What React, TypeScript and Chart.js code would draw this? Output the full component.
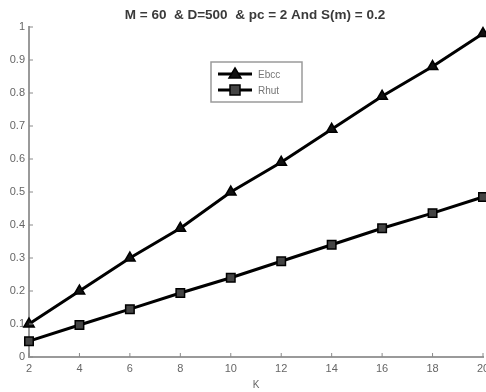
import React, { useEffect, useRef } from "react";
import { Chart, registerables } from "chart.js";

Chart.register(...registerables);

const titleText = "M = 60  & D=500  & pc = 2 And S(m) = 0.2";
const xLabel = "K";
const kValues = [2, 4, 6, 8, 10, 12, 14, 16, 18, 20];
const ebccValues = [0.1, 0.2, 0.3, 0.39, 0.5, 0.59, 0.69, 0.79, 0.88, 0.98];
const rhutValues = [0.048, 0.097, 0.145, 0.194, 0.24, 0.29, 0.34, 0.39, 0.436, 0.485];
const seriesNames = ["Ebcc", "Rhut"];

const titlePlugin = {
  id: "titlePlugin",
  afterDraw(chart: any) {
    const { ctx } = chart;
    ctx.save();
    ctx.fillStyle = "#3a3a3a";
    ctx.font = "bold 13.5px 'Liberation Sans', Arial, sans-serif";
    ctx.textAlign = "center";
    ctx.textBaseline = "middle";
    ctx.fillText(titleText, 255, 15);
    ctx.restore();
  },
};

const innerTicks = {
  id: "innerTicks",
  afterDatasetsDraw(chart: any) {
    const { ctx, chartArea, scales } = chart;
    ctx.save();
    ctx.strokeStyle = "#8a8a8a";
    ctx.lineWidth = 1;
    scales.x.ticks.forEach((t: any) => {
      const x = scales.x.getPixelForValue(t.value);
      ctx.beginPath();
      ctx.moveTo(x, chartArea.bottom);
      ctx.lineTo(x, chartArea.bottom - 4);
      ctx.stroke();
    });
    scales.y.ticks.forEach((t: any) => {
      const y = scales.y.getPixelForValue(t.value);
      ctx.beginPath();
      ctx.moveTo(chartArea.left, y);
      ctx.lineTo(chartArea.left + 4, y);
      ctx.stroke();
    });
    ctx.restore();
  },
};

const customLegend = {
  id: "customLegend",
  afterDraw(chart: any) {
    const { ctx } = chart;
    const x0 = 211, y0 = 62, w = 91, h = 40;
    ctx.save();
    ctx.fillStyle = "#fff";
    ctx.fillRect(x0, y0, w, h);
    ctx.strokeStyle = "#9a9a9a";
    ctx.lineWidth = 1.5;
    ctx.strokeRect(x0, y0, w, h);
    chart.data.datasets.forEach((ds: any, i: number) => {
      const cy = y0 + 12 + i * 16;
      ctx.strokeStyle = "#000";
      ctx.lineWidth = 3;
      ctx.beginPath();
      ctx.moveTo(x0 + 7, cy);
      ctx.lineTo(x0 + 41, cy);
      ctx.stroke();
      const cx = x0 + 24;
      ctx.fillStyle = ds.pointBackgroundColor;
      ctx.strokeStyle = "#000";
      ctx.lineWidth = 1.5;
      ctx.beginPath();
      if (ds.pointStyle === "triangle") {
        ctx.moveTo(cx, cy - 6);
        ctx.lineTo(cx + 6, cy + 4);
        ctx.lineTo(cx - 6, cy + 4);
        ctx.closePath();
      } else {
        ctx.rect(cx - 5, cy - 5, 10, 10);
      }
      ctx.fill();
      ctx.stroke();
      ctx.fillStyle = "#777";
      ctx.font = "10px 'Liberation Sans', Arial, sans-serif";
      ctx.textBaseline = "middle";
      ctx.fillText(ds.label, x0 + 47, cy + 1);
    });
    ctx.restore();
  },
};

export default function App() {
  const ref = useRef<HTMLCanvasElement>(null);
  useEffect(() => {
    const chart = new Chart(ref.current!, {
      type: "line",
      data: {
        datasets: [
          {
            label: seriesNames[0],
            data: kValues.map((k, i) => ({ x: k, y: ebccValues[i] })),
            borderColor: "#000",
            borderWidth: 3,
            pointStyle: "triangle",
            pointRadius: 6,
            pointBackgroundColor: "#111",
            pointBorderColor: "#000",
            pointBorderWidth: 1.5,
            clip: false,
          },
          {
            label: seriesNames[1],
            data: kValues.map((k, i) => ({ x: k, y: rhutValues[i] })),
            borderColor: "#000",
            borderWidth: 3,
            pointStyle: "rect",
            pointRadius: 6,
            pointBackgroundColor: "#444",
            pointBorderColor: "#000",
            pointBorderWidth: 1.5,
            clip: false,
          },
        ],
      },
      options: {
        animation: false,
        responsive: false,
        layout: { autoPadding: false, padding: { left: 0, right: 3, top: 27, bottom: 0 } },
        plugins: {
          legend: { display: false },
          tooltip: { enabled: false },
          title: { display: false },
        },
        scales: {
          x: {
            type: "linear",
            min: 2,
            max: 20,
            ticks: {
              stepSize: 2,
              color: "#666",
              padding: 5,
              font: { family: "'Liberation Sans', Arial, sans-serif", size: 11 },
            },
            grid: { display: false, drawTicks: false },
            border: { display: true, color: "#9a9a9a", width: 2 },
            title: {
              display: true,
              text: xLabel,
              color: "#666",
              font: { family: "'Liberation Sans', Arial, sans-serif", size: 10 },
              padding: { top: 2, bottom: 1 },
            },
            afterFit(scale: any) {
              scale.height = 35;
              scale.paddingRight = 0;
            },
          },
          y: {
            min: 0,
            max: 1,
            ticks: {
              stepSize: 0.1,
              color: "#666",
              padding: 4,
              font: { family: "'Liberation Sans', Arial, sans-serif", size: 11 },
              callback: (v: any) => String(Number(Number(v).toFixed(1))),
            },
            grid: { display: false, drawTicks: false },
            border: { display: true, color: "#9a9a9a", width: 2 },
            afterFit(scale: any) {
              scale.width = 29;
              scale.paddingTop = 0;
            },
          },
        },
      },
      plugins: [innerTicks, customLegend, titlePlugin],
    });
    return () => chart.destroy();
  }, []);
  return (
    <div style={{ position: "fixed", left: 0, top: 0, width: 486, height: 392, background: "#fff" }}>
      <canvas ref={ref} width={486} height={392} style={{ width: 486, height: 392 }} />
    </div>
  );
}
